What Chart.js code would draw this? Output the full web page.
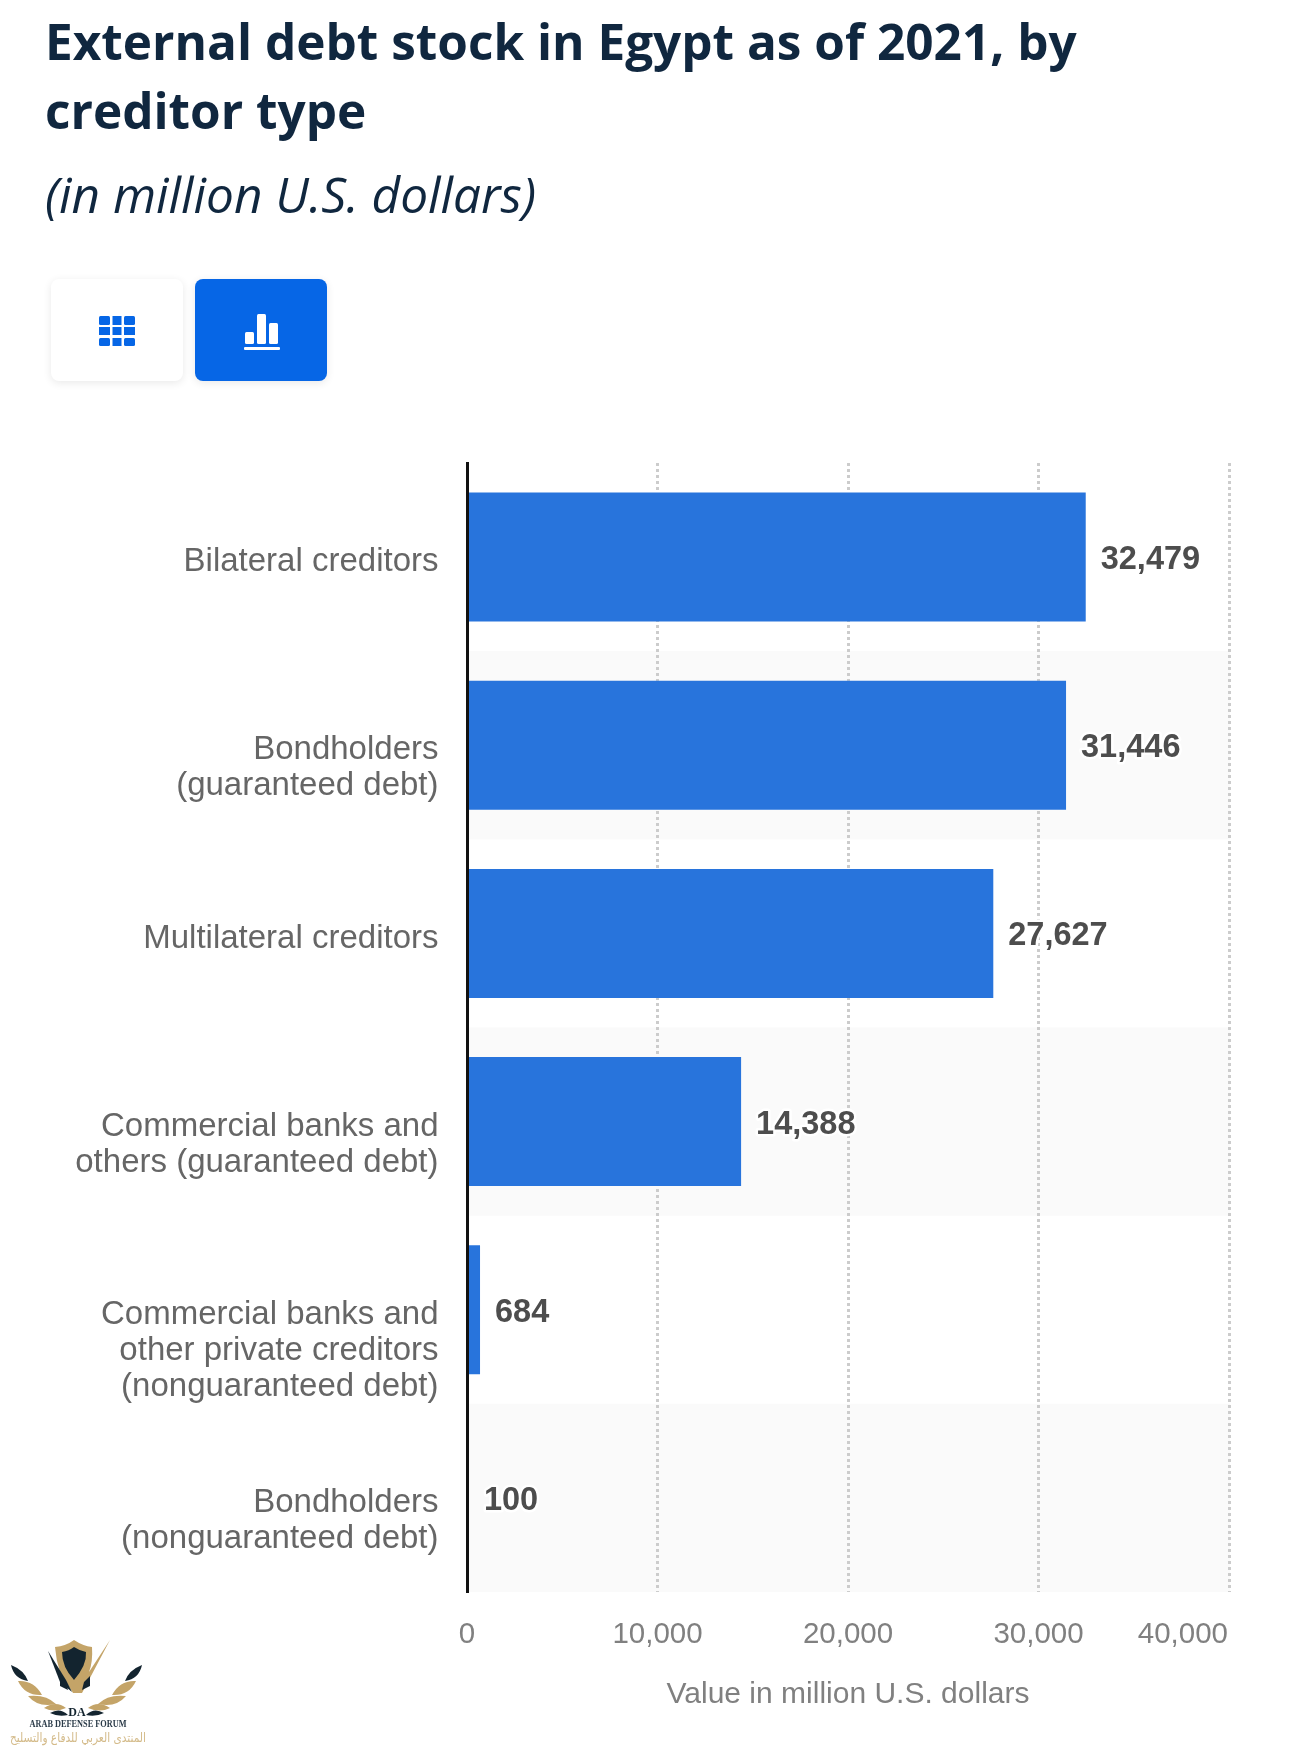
<!DOCTYPE html>
<html>
<head>
<meta charset="utf-8">
<script src="https://cdn.jsdelivr.net/npm/chart.js@4"></script>
<style>
html,body{margin:0;padding:0;background:#fff;width:1290px;height:1749px;overflow:hidden}
#c{position:absolute;left:0;top:0}
.t{position:absolute;left:45px;white-space:nowrap;color:#10273f;font-family:"Open Sans",sans-serif}
.h{font-weight:700;font-size:49.500px;line-height:69px}
.s{font-style:italic;font-weight:400;font-size:49.500px;line-height:69px}
.b{position:absolute;top:279px;width:132px;height:102px;border-radius:8px;box-shadow:0 2px 8px rgba(0,0,0,.09)}
svg{position:absolute;left:0;top:0;overflow:visible}
</style>
</head>
<body>
<div class="t h" style="top:7px">External debt stock in Egypt as of 2021, by</div>
<div class="t h" style="top:76px">creditor type</div>
<div class="t s" style="top:160px">(in million U.S. dollars)</div>
<div class="b" style="left:51px;background:#fff"></div>
<div class="b" style="left:195px;background:#0666e6"></div>
<svg width="1290" height="1749" style="z-index:2;pointer-events:none">
  <g fill="#0666e6">
    <rect x="99" y="316" width="11" height="9" rx="1.5"/><rect x="112.500" y="316" width="9" height="9"/><rect x="124" y="316" width="11" height="9" rx="1.5"/>
    <rect x="99" y="327" width="11" height="8"/><rect x="112.500" y="327" width="9" height="8"/><rect x="124" y="327" width="11" height="8"/>
    <rect x="99" y="338" width="11" height="8" rx="1.5"/><rect x="112.500" y="338" width="9" height="8"/><rect x="124" y="338" width="11" height="8" rx="1.500"/>
  </g>
  <g fill="#fff">
    <rect x="245" y="332" width="9" height="12" rx="1.500"/><rect x="257" y="314" width="9" height="30" rx="1.500"/><rect x="269" y="323" width="9" height="21" rx="1.500"/>
    <rect x="244" y="347" width="36" height="3" rx="1"/>
  </g>
  <!-- forum logo -->
  <path d="M55 1647 Q66 1646 74 1640 Q83 1646 92 1647 Q93 1662 89 1672 L110 1640 L82 1693 L73 1693 L60 1672 Q56 1660 55 1647Z" fill="#c4a468"/>
  <path d="M62 1652 Q69 1651 74 1647 Q80 1651 86 1652 Q87 1665 74 1680 Q62 1667 62 1652Z" fill="#13242f"/>
  <path d="M48 1651 L66 1680 L72 1692 L60 1682Z" fill="#13242f"/>
  <path d="M60 1676 L66 1682 L68 1690 L60 1686Z M90 1676 L84 1682 L82 1690 L90 1686Z" fill="#13242f"/>
  <path d="M11 1665 Q24 1670 28 1681 Q14 1679 11 1665Z M142 1665 Q129 1670 125 1681 Q139 1679 142 1665Z" fill="#13242f"/>
  <path d="M18 1681 Q34 1680 42 1695 Q25 1696 18 1681Z M136 1681 Q120 1680 112 1695 Q129 1696 136 1681Z M28 1696 Q46 1694 56 1704 Q38 1708 28 1696Z M126 1696 Q108 1694 98 1704 Q116 1708 126 1696Z" fill="#c4a468"/>
  <path d="M44 1708 Q56 1700 66 1708 Q54 1713 44 1708Z M110 1708 Q98 1700 88 1708 Q100 1713 110 1708Z" fill="#c4a468"/>
  <path d="M50 1713 Q60 1707 68 1715 Q58 1717 50 1713Z M104 1713 Q94 1707 86 1715 Q96 1717 104 1713Z" fill="#13242f"/>
  <text x="77" y="1716" text-anchor="middle" font-family="Liberation Serif" font-weight="700" font-size="12" fill="#13242f">DA</text>
  <text x="78" y="1727" text-anchor="middle" font-family="Liberation Serif" font-weight="700" font-size="10" textLength="97" lengthAdjust="spacingAndGlyphs" fill="#2a3a48">ARAB DEFENSE FORUM</text>
  <text x="78" y="1742" text-anchor="middle" direction="rtl" font-family="DejaVu Sans" font-size="13" textLength="136" lengthAdjust="spacingAndGlyphs" fill="#d4bb8a">المنتدى العربي للدفاع والتسليح</text>
</svg>
<canvas id="c" width="1290" height="1749"></canvas>
<script>
const categories = [
  ["Bilateral creditors"],
  ["Bondholders", "(guaranteed debt)"],
  ["Multilateral creditors"],
  ["Commercial banks and", "others (guaranteed debt)"],
  ["Commercial banks and", "other private creditors", "(nonguaranteed debt)"],
  ["Bondholders", "(nonguaranteed debt)"]
];
const debtValues = [32479, 31446, 27627, 14388, 684, 100];
const valueAxisMax = 40000;
const valueAxisStep = 10000;
const valueAxisTitle = "Value in million U.S. dollars";

const fmt = v => Number(v).toLocaleString('en-US');

const bands = {
  id: 'bands',
  beforeDraw(chart) {
    const { ctx, chartArea: a, scales: { y } } = chart;
    const row = (a.bottom - a.top) / categories.length;
    ctx.save();
    ctx.fillStyle = '#fafafa';
    categories.forEach((_, i) => {
      if (i % 2 === 1) ctx.fillRect(a.left, y.getPixelForTick(i) - row / 2, a.right - a.left + 1, row);
    });
    ctx.restore();
    // last value-axis label stays inside the plot, as in the source
    const items = chart.scales.x.getLabelItems();
    const last = items[items.length - 1];
    if (last) { last.options.textAlign = 'right'; last.options.translation[0] = a.right - 1; }
  }
};

const valueLabels = {
  id: 'valueLabels',
  afterDatasetsDraw(chart) {
    const { ctx } = chart;
    const meta = chart.getDatasetMeta(0);
    ctx.save();
    ctx.font = 'bold 32.500px "Liberation Sans", Arial, sans-serif';
    ctx.textAlign = 'left';
    ctx.textBaseline = 'middle';
    ctx.lineJoin = 'round';
    meta.data.forEach((bar, i) => {
      const s = fmt(debtValues[i]);
      const x = bar.x + 15, y = bar.y + 3;
      ctx.strokeStyle = '#fff';
      ctx.lineWidth = 5;
      ctx.strokeText(s, x, y);
      ctx.fillStyle = '#4d4d4d';
      ctx.fillText(s, x, y);
    });
    ctx.restore();
  }
};

new Chart(document.getElementById('c'), {
  type: 'bar',
  data: {
    labels: categories,
    datasets: [{
      data: debtValues,
      backgroundColor: '#2874dc',
      borderWidth: 0,
      barPercentage: 0.686,
      categoryPercentage: 1
    }]
  },
  options: {
    indexAxis: 'y',
    responsive: false,
    animation: false,
    devicePixelRatio: 1,
    layout: { padding: { top: 463, right: 61, bottom: 0, left: 0 } },
    plugins: { legend: { display: false }, tooltip: { enabled: false } },
    scales: {
      x: {
        min: 0,
        max: valueAxisMax,
        afterFit: s => { s.height = 157; s.paddingLeft = 0; s.paddingRight = 0; },
        border: { display: false, dash: [3, 3] },
        grid: { color: '#cccccc', lineWidth: 3, drawTicks: false },
        ticks: {
          stepSize: valueAxisStep,
          maxRotation: 0,
          autoSkip: false,
          padding: 25,
          color: '#808080',
          font: { family: '"Liberation Sans", Arial, sans-serif', size: 29.5 },
          callback: v => fmt(v)
        },
        title: {
          display: true,
          text: valueAxisTitle,
          color: '#808080',
          padding: { top: 22, bottom: 36 },
          font: { family: '"Liberation Sans", Arial, sans-serif', size: 30 }
        }
      },
      y: {
        afterFit: s => { s.width = 467; s.paddingTop = 0; s.paddingBottom = 0; },
        border: { color: '#111111', width: 3, z: 1 },
        grid: { display: false, drawTicks: false },
        ticks: {
          padding: 28.5,
          labelOffset: 5,
          color: '#666666',
          font: { family: '"Liberation Sans", Arial, sans-serif', size: 33, lineHeight: 1.09 },
          autoSkip: false,
          // the first line of every label sits on the row centre
          callback(v, i) {
            const lines = categories[i];
            return Array(lines.length - 1).fill('').concat(lines);
          }
        }
      }
    }
  },
  plugins: [bands, valueLabels]
});
</script>
</body>
</html>
